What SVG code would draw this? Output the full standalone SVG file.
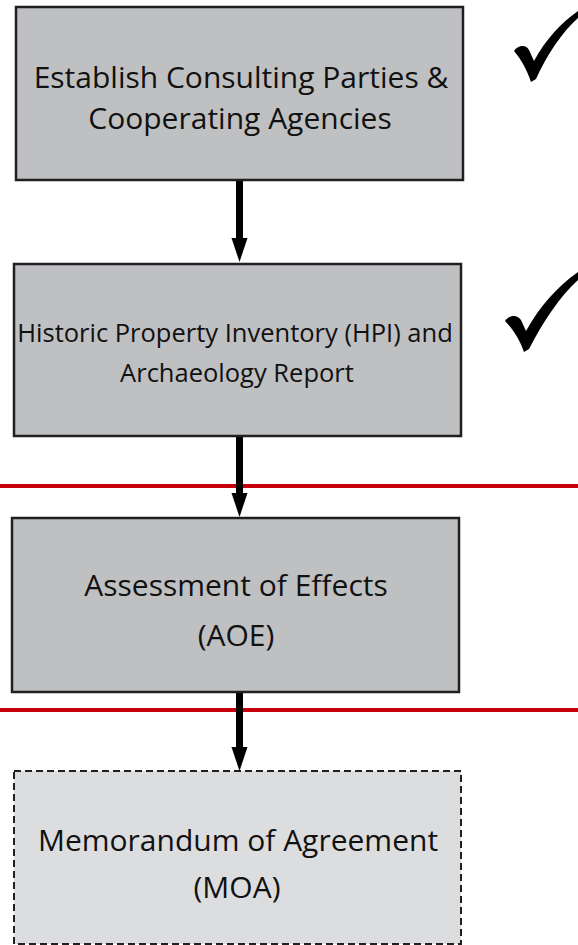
<svg xmlns="http://www.w3.org/2000/svg" width="578" height="945" viewBox="0 0 578 945">
<style>
.box{fill:#bfc0c2;stroke:#231f20;stroke-width:2.5}
.dbox{fill:#dcdddf;stroke:#231f20;stroke-width:2;stroke-dasharray:7 4}
.t{font-family:"Open Sans","Noto Sans",sans-serif;fill:#111;text-anchor:middle}
.big{font-size:30px}
.small{font-size:25.5px}
.red{stroke:#c8000a;stroke-width:4}
.shaft{stroke:#000;stroke-width:7}
.chk{fill:#000}
</style>
<g id="separators">
<line class="red" x1="0" y1="486" x2="578" y2="486"/>
<line class="red" x1="0" y1="710" x2="578" y2="710"/>
</g>
<g id="connectors">
<line class="shaft" x1="239.5" y1="181" x2="239.5" y2="239"/>
<path d="M231.5,238 L247.5,238 L239.5,262 Z" fill="#000"/>
<line class="shaft" x1="239.5" y1="437" x2="239.5" y2="494"/>
<path d="M231.5,493 L247.5,493 L239.5,517 Z" fill="#000"/>
<line class="shaft" x1="239.5" y1="693" x2="239.5" y2="748"/>
<path d="M231.5,747 L247.5,747 L239.5,771 Z" fill="#000"/>
</g>
<g id="node-consulting">
<rect class="box" x="16" y="7" width="447" height="173"/>
<text class="t big" x="241" y="88">Establish Consulting Parties &amp;</text>
<text class="t big" x="240" y="129">Cooperating Agencies</text>
</g>
<g id="node-hpi">
<rect class="box" x="14" y="264" width="447" height="172"/>
<text class="t small" x="235" y="342">Historic Property Inventory (HPI) and</text>
<text class="t small" x="237" y="382">Archaeology Report</text>
</g>
<g id="node-aoe">
<rect class="box" x="12" y="518" width="447" height="174"/>
<text class="t big" x="236" y="596">Assessment of Effects</text>
<text class="t big" x="236" y="646">(AOE)</text>
</g>
<g id="node-moa">
<rect class="dbox" x="14" y="771" width="447" height="173"/>
<text class="t big" x="238" y="851">Memorandum of Agreement</text>
<text class="t big" x="237" y="898">(MOA)</text>
</g>
<g id="check-1">
<path class="chk" d="M514,51 C518,45 526,44 529,50 L534,61 C546,39 561,23 578,11 L578,18 C562,32 547,55 536,79 L531,82 C527,70 521,59 514,51 Z"/>
</g>
<g id="check-2">
<path class="chk" d="M505,321 C509,315 517,314 521,320 L526,331 C540,306 557,287 578,272 L578,280 C560,296 543,322 529,349 L524,352 C520,340 513,329 505,321 Z"/>
</g>
</svg>
